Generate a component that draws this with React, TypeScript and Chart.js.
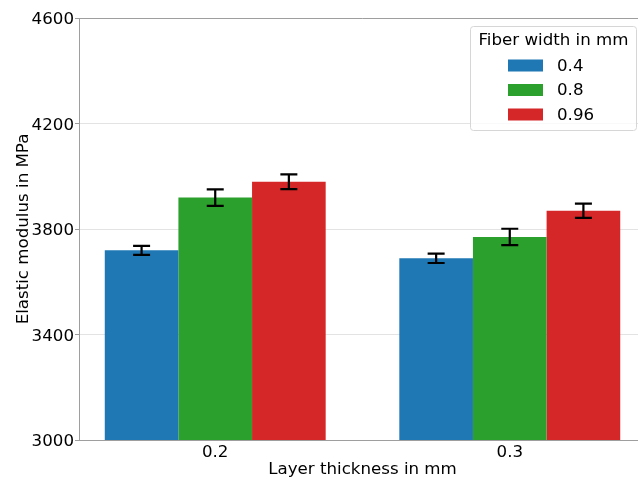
import React, { useEffect, useRef } from "react";
import { Chart, registerables } from "chart.js";

Chart.register(...registerables);

const categories = ["0.2", "0.3"];
const seriesLabels = ["0.4", "0.8", "0.96"];
const seriesColors = ["#1f77b4", "#2ca02c", "#d62728"];
const values04 = [3719, 3689];
const values08 = [3919, 3770];
const values096 = [3979, 3869];
const errors04 = [17, 18];
const errors08 = [31, 31];
const errors096 = [28, 27];
const yTicks = [3000, 3400, 3800, 4200, 4600];

const FONT = "'DejaVu Sans', sans-serif";
const FS = 16.67;
const TEXT = "#000000";
const SPINE = "#9e9e9e";

const seriesValues = [values04, values08, values096];
const seriesErrors = [errors04, errors08, errors096];

const errorBarPlugin = {
  id: "errorBars",
  afterDatasetsDraw(chart: any) {
    const ctx = chart.ctx;
    const yScale = chart.scales.y;
    ctx.save();
    ctx.strokeStyle = "#000";
    ctx.lineWidth = 2.2;
    chart.data.datasets.forEach((ds: any, di: number) => {
      const meta = chart.getDatasetMeta(di);
      meta.data.forEach((el: any, i: number) => {
        const v = seriesValues[di][i];
        const e = seriesErrors[di][i];
        const yTop = yScale.getPixelForValue(v + e);
        const yBot = yScale.getPixelForValue(v - e);
        const x = el.x;
        ctx.beginPath();
        ctx.moveTo(x, yTop);
        ctx.lineTo(x, yBot);
        ctx.moveTo(x - 8.5, yTop);
        ctx.lineTo(x + 8.5, yTop);
        ctx.moveTo(x - 8.5, yBot);
        ctx.lineTo(x + 8.5, yBot);
        ctx.stroke();
      });
    });
    ctx.restore();
  },
};

const decorPlugin = {
  id: "decor",
  afterDraw(chart: any) {
    const ctx = chart.ctx;
    const area = chart.chartArea;
    ctx.save();
    // top spine
    ctx.strokeStyle = SPINE;
    ctx.lineWidth = 1;
    ctx.beginPath();
    ctx.moveTo(area.left, area.top + 0.5);
    ctx.lineTo(area.right, area.top + 0.5);
    ctx.stroke();

    // axis titles
    ctx.fillStyle = TEXT;
    ctx.font = `${FS}px ${FONT}`;
    ctx.textAlign = "center";
    ctx.textBaseline = "alphabetic";
    ctx.fillText("Layer thickness in mm", (area.left + area.right) / 2, 474);
    ctx.save();
    ctx.translate(28, (area.top + area.bottom) / 2);
    ctx.rotate(-Math.PI / 2);
    ctx.fillText("Elastic modulus in MPa", 0, 0);
    ctx.restore();

    // legend
    const bx = 470.5, by = 26.5, bw = 166, bh = 104, r = 3;
    ctx.beginPath();
    ctx.moveTo(bx + r, by);
    ctx.lineTo(bx + bw - r, by);
    ctx.arcTo(bx + bw, by, bx + bw, by + r, r);
    ctx.lineTo(bx + bw, by + bh - r);
    ctx.arcTo(bx + bw, by + bh, bx + bw - r, by + bh, r);
    ctx.lineTo(bx + r, by + bh);
    ctx.arcTo(bx, by + bh, bx, by + bh - r, r);
    ctx.lineTo(bx, by + r);
    ctx.arcTo(bx, by, bx + r, by, r);
    ctx.closePath();
    ctx.fillStyle = "rgba(255,255,255,0.8)";
    ctx.fill();
    ctx.strokeStyle = "#d6d6d6";
    ctx.stroke();

    ctx.fillStyle = TEXT;
    ctx.textAlign = "center";
    ctx.textBaseline = "middle";
    ctx.fillText("Fiber width in mm", bx + bw / 2, 41);
    ctx.textAlign = "left";
    seriesLabels.forEach((lab, i) => {
      const cy = 65.5 + i * 24.5;
      ctx.fillStyle = seriesColors[i];
      ctx.fillRect(508, cy - 6, 35, 12);
      ctx.fillStyle = TEXT;
      ctx.fillText(lab, 557, cy + 1);
    });
    ctx.restore();
  },
};

export default function App() {
  const ref = useRef<HTMLCanvasElement | null>(null);
  useEffect(() => {
    if (!ref.current) return;
    const chart = new Chart(ref.current, {
      type: "bar",
      data: {
        datasets: seriesLabels.map((lab, i) => ({
          label: lab,
          data: seriesValues[i].map((v, j) => ({ x: j, y: v })),
          backgroundColor: seriesColors[i],
          borderWidth: 0,
          categoryPercentage: 0.75,
          barPercentage: 1,
        })),
      },
      plugins: [errorBarPlugin, decorPlugin],
      options: {
        responsive: false,
        animation: false,
        layout: { autoPadding: false, padding: { top: 18, right: 2, left: 0, bottom: 0 } },
        plugins: { legend: { display: false }, tooltip: { enabled: false } },
        scales: {
          x: {
            type: "linear",
            min: -0.4625,
            max: 1.4625,
            offset: false,
            grid: { display: false, drawTicks: false },
            border: { display: true, color: SPINE, width: 1 },
            afterBuildTicks: (scale: any) => {
              scale.ticks = categories.map((_, i) => ({ value: i }));
            },
            ticks: {
              autoSkip: false,
              maxRotation: 0,
              padding: 3,
              color: TEXT,
              font: { family: FONT, size: FS },
              callback: (v: any) => categories[v] ?? "",
            },
            afterFit: (scale: any) => {
              scale.height = 41;
            },
          },
          y: {
            type: "linear",
            min: 3000,
            max: 4600,
            z: 1,
            afterBuildTicks: (scale: any) => {
              scale.ticks = yTicks.map((v) => ({ value: v }));
            },
            grid: {
              color: (c: any) => (c.tick && c.tick.value === 3000 ? "rgba(0,0,0,0)" : "rgba(176,176,176,0.35)"),
              tickColor: SPINE,
              tickLength: 4,
              drawTicks: true,
            },
            border: { display: true, color: SPINE, width: 1 },
            ticks: {
              padding: 1,
              labelOffset: 2,
              color: TEXT,
              font: { family: FONT, size: FS },
              callback: (v: any) => String(v),
            },
            afterFit: (scale: any) => {
              scale.width = 79;
            },
          },
        },
      },
    });
    return () => chart.destroy();
  }, []);
  return (
    <div style={{ position: "absolute", left: 0, top: 0, width: 638, height: 481, overflow: "hidden", background: "#fff" }}>
      <canvas ref={ref} width={648} height={481} style={{ display: "block", width: 648, height: 481 }} />
    </div>
  );
}
